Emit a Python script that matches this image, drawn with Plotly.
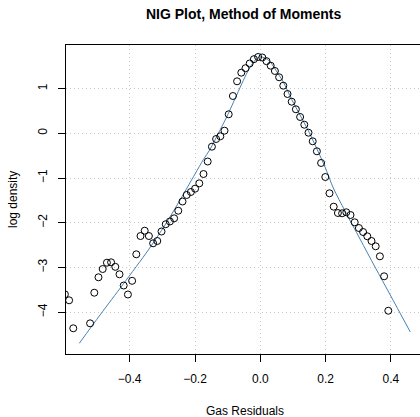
import plotly.graph_objects as go

# Observed log-density points (histogram bin midpoints)
pts_x = [-0.5985, -0.5856, -0.5728, -0.5213, -0.5084, -0.4956, -0.4827, -0.4698,
         -0.4570, -0.4441, -0.4312, -0.4184, -0.4055, -0.3926, -0.3798, -0.3669,
         -0.3541, -0.3412, -0.3283, -0.3155, -0.3026, -0.2897, -0.2769, -0.2640,
         -0.2512, -0.2383, -0.2254, -0.2126, -0.1997, -0.1868, -0.1740, -0.1611,
         -0.1482, -0.1354, -0.1225, -0.1097, -0.0968, -0.0839, -0.0711, -0.0582,
         -0.0453, -0.0325, -0.0196, -0.0067, 0.0061, 0.0190, 0.0318, 0.0447,
         0.0576, 0.0704, 0.0833, 0.0962, 0.1090, 0.1219, 0.1348, 0.1476,
         0.1605, 0.1733, 0.1862, 0.1991, 0.2119, 0.2248, 0.2377, 0.2505,
         0.2634, 0.2763, 0.2891, 0.3020, 0.3148, 0.3277, 0.3406, 0.3534,
         0.3663, 0.3792, 0.3920]
pts_y = [-3.602, -3.736, -4.362, -4.251, -3.566, -3.221, -3.036, -2.895,
         -2.886, -2.987, -3.154, -3.405, -3.606, -3.300, -2.707, -2.298,
         -2.179, -2.298, -2.461, -2.409, -2.197, -2.034, -1.973, -1.902,
         -1.732, -1.526, -1.380, -1.313, -1.239, -1.119, -0.911, -0.631,
         -0.300, -0.128, -0.067, 0.058, 0.425, 0.834, 1.163, 1.356,
         1.456, 1.562, 1.658, 1.707, 1.696, 1.613, 1.512, 1.394,
         1.253, 1.065, 0.879, 0.707, 0.537, 0.365, 0.192, 0.013,
         -0.179, -0.403, -0.664, -0.978, -1.342, -1.642, -1.783, -1.790,
         -1.767, -1.828, -1.991, -2.119, -2.208, -2.304, -2.409, -2.528,
         -2.752, -3.199, -3.969]

# Fitted NIG log density curve
fit_x = [-0.5544, -0.4910, -0.4196, -0.3430, -0.2919, -0.2511, -0.2000, -0.1746,
         -0.1541, -0.1296, -0.1029, -0.0723, -0.0521, -0.0346, -0.0193, -0.0101,
         -0.0009, 0.0175, 0.0328, 0.0481, 0.0695, 0.0962, 0.1216, 0.1476,
         0.1734, 0.1982, 0.2236, 0.2594, 0.3054, 0.3513, 0.3972, 0.4594]
fit_y = [-4.698, -4.065, -3.371, -2.611, -2.051, -1.559, -0.911, -0.590,
         -0.362, -0.016, 0.365, 0.857, 1.181, 1.438, 1.606, 1.673,
         1.711, 1.673, 1.573, 1.405, 1.159, 0.756, 0.409, 0.051,
         -0.351, -0.754, -1.224, -1.738, -2.365, -2.991, -3.606, -4.445]

x_ticks = [-0.4, -0.2, 0.0, 0.2, 0.4]
x_tick_labels = ["\u22120.4", "\u22120.2", "0.0", "0.2", "0.4"]
y_ticks = [-4, -3, -2, -1, 0, 1]
y_tick_labels = ["\u22124", "\u22123", "\u22122", "\u22121", "0", "1"]

FONT = "Liberation Sans, Arial, Helvetica, sans-serif"
W, H = 420, 417
L, R, T, B = 66, 0, 45, 63
PW, PH = W - L - R, H - T - B


def px(xp):
    return (xp - L) / PW


def py(yp):
    return (H - B - yp) / PH


fig = go.Figure()
fig.add_trace(go.Scatter(
    x=fit_x, y=fit_y, mode="lines",
    line=dict(color="steelblue", width=1, shape="spline", smoothing=0.8),
    showlegend=False, hoverinfo="skip"))
fig.add_trace(go.Scatter(
    x=pts_x, y=pts_y, mode="markers",
    marker=dict(symbol="circle-open", size=7, color="black", line=dict(width=1, color="black")),
    showlegend=False))

grid = dict(showgrid=True, gridcolor="#c8c8c8", griddash="1px,3px", gridwidth=1, zeroline=False)
fig.update_layout(
    width=W, height=H,
    margin=dict(l=L, r=R, t=T, b=B),
    paper_bgcolor="white", plot_bgcolor="white",
    font=dict(family=FONT, size=12, color="black"),
    xaxis=dict(range=[-0.5951, 0.4891], tickvals=x_ticks, ticktext=x_tick_labels,
               showline=True, linecolor="black", linewidth=1, mirror=True,
               ticks="outside", ticklen=7, tickcolor="black", ticklabelstandoff=7,
               tickfont=dict(size=12), **grid),
    yaxis=dict(range=[-4.937, 1.975], tickvals=y_ticks, ticktext=y_tick_labels,
               showline=True, linecolor="black", linewidth=1, mirror=False,
               ticks="outside", ticklen=7, tickcolor="black", tickangle=-90,
               ticklabelstandoff=6,
               tickfont=dict(size=12), **grid),
)
fig.add_annotation(text="<b>NIG Plot, Method of Moments</b>", x=px(243), y=py(14), xref="paper", yref="paper",
                   showarrow=False, font=dict(size=14, family=FONT), xanchor="center", yanchor="middle")
fig.add_annotation(text="Gas Residuals", x=px(245), y=py(411), xref="paper", yref="paper",
                   showarrow=False, font=dict(size=12, family=FONT), xanchor="center", yanchor="middle")
fig.add_annotation(text="log density", x=px(13), y=py(200), xref="paper", yref="paper",
                   showarrow=False, textangle=-90, font=dict(size=12, family=FONT),
                   xanchor="center", yanchor="middle")

fig.write_html("out.html", config={"displayModeBar": False},
               post_script="document.body.style.margin='0';document.body.style.overflow='hidden';")
